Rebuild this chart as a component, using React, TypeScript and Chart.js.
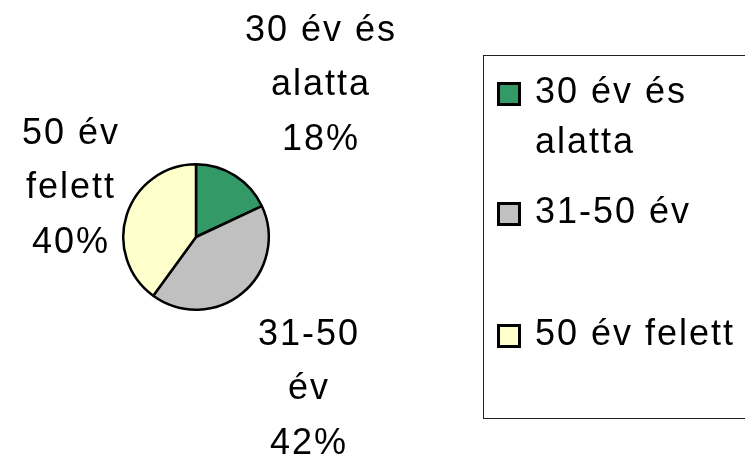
import React, { useEffect, useRef } from "react";
import { Chart, registerables } from "chart.js";

Chart.register(...registerables);

const categories = ["30 év és alatta", "31-50 év", "50 év felett"];
const shares = [18, 42, 40];
const sliceColors = ["#339966", "#C0C0C0", "#FFFFCC"];
// how the category names wrap in the slice labels and in the legend
const labelLines = [["30 év és", "alatta"], ["31-50", "év"], ["50 év", "felett"]];
const legendLines = [["30 év és", "alatta"], ["31-50 év"], ["50 év felett"]];

const FONT = '36px "Liberation Sans", Arial, Helvetica, sans-serif';

const decorPlugin = {
  id: "decor",
  afterDatasetsDraw(chart: any) {
    const ctx = chart.ctx as CanvasRenderingContext2D;
    const meta = chart.getDatasetMeta(0);
    const arc = meta.data[0] as any;
    const cx = arc.x;
    const cy = arc.y;
    // label block anchors (middle line baseline) relative to pie centre
    const offsets = [
      [124, -142],
      [112, 162],
      [-126, -39],
    ];
    const lineGap = 54.5;
    ctx.save();
    ctx.font = FONT;
    (ctx as any).letterSpacing = "2px";
    ctx.fillStyle = "#000";
    ctx.textAlign = "center";
    ctx.textBaseline = "alphabetic";
    categories.forEach((_, i) => {
      const lines = [...labelLines[i], `${shares[i]}%`];
      const [ox, oy] = offsets[i];
      lines.forEach((ln, j) => {
        ctx.fillText(ln, cx + ox + 1, cy + oy + (j - 1) * lineGap);
      });
    });

    // legend box
    ctx.lineWidth = 1;
    ctx.strokeStyle = "#222";
    ctx.strokeRect(483.5, 55.5, 320, 363);

    const rowBaselines = [103, 223, 345];
    const wrapGap = 50;
    ctx.textAlign = "left";
    categories.forEach((_, i) => {
      const b = rowBaselines[i];
      ctx.fillStyle = sliceColors[i];
      ctx.fillRect(498.5, b - 19.5, 21, 21);
      ctx.lineWidth = 3;
      ctx.strokeStyle = "#000";
      ctx.strokeRect(498.5, b - 19.5, 21, 21);
      ctx.fillStyle = "#000";
      legendLines[i].forEach((ln, j) => {
        ctx.fillText(ln, 535, b + j * wrapGap);
      });
    });
    ctx.restore();
  },
};

export default function App() {
  const ref = useRef<HTMLCanvasElement | null>(null);
  useEffect(() => {
    document.body.style.margin = "0";
    const canvas = ref.current!;
    const chart = new Chart(canvas, {
      type: "pie",
      data: {
        labels: categories,
        datasets: [
          {
            data: shares,
            backgroundColor: sliceColors,
            borderColor: "#000",
            borderWidth: 2.5,
          },
        ],
      },
      options: {
        responsive: false,
        animation: false,
        layout: { padding: { left: 122, top: 163, right: 475, bottom: 148 } },
        plugins: {
          legend: { display: false },
          tooltip: { enabled: false },
          title: { display: false },
        },
      },
      plugins: [decorPlugin],
    });
    return () => chart.destroy();
  }, []);
  return (
    <div style={{ position: "absolute", left: 0, top: 0, width: 745, height: 459, background: "#fff" }}>
      <canvas ref={ref} width={745} height={459} />
    </div>
  );
}
